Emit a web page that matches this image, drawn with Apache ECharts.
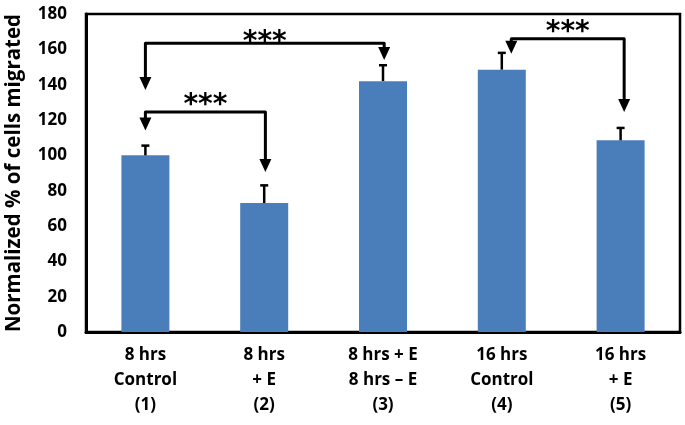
<!DOCTYPE html>
<html><head><meta charset="utf-8">
<script src="https://cdn.jsdelivr.net/npm/echarts@6/dist/echarts.min.js"></script>
<style>html,body{margin:0;padding:0;background:#fff}#c{width:685px;height:425px}</style>
</head><body><div id="c"></div>
<script>
// ---- data ----
const categories = ['8 hrs\nControl\n(1)', '8 hrs\n+ E\n(2)', '8 hrs + E\n8 hrs \u2013 E\n(3)', '16 hrs\nControl\n(4)', '16 hrs\n+ E\n(5)'];
const values = [100, 73, 142, 148.5, 108.5];
const errors = [5.5, 10, 9, 9.5, 7];
const yAxisTitle = 'Normalized % of cells migrated';
// significance brackets (data units: category index / value)
const bracketFrom = [0, 0, 3];
const bracketTo = [2, 1, 4];
const bracketFromShift = [0, 0, 0.08];
const bracketToShift = [0.01, 0.01, 0.03];
const bracketLevel = [163.5, 124.5, 166];
const bracketTipFrom = [137, 114, 157.5];
const bracketTipTo = [154, 90.5, 124.5];
const bracketLabelAt = [167, 131.5, 173];
const bracketLabels = ['***', '***', '***'];

const FONT = '"Open Sans"';
const chart = echarts.init(document.getElementById('c'));

const errData = values.map((v, i) => [i, v, errors[i]]);
const brData = bracketFrom.map((f, i) => [f, bracketTo[i], bracketLevel[i], bracketTipFrom[i], bracketTipTo[i], bracketLabelAt[i], bracketFromShift[i], bracketToShift[i], i]);

chart.setOption({
  animation: false,
  backgroundColor: '#fff',
  grid: { left: 86, right: 5, top: 14, bottom: 93, show: true, borderColor: '#000', borderWidth: 2.5, backgroundColor: 'transparent', outerBoundsMode: 'none', containLabel: false },
  xAxis: {
    type: 'category', data: categories,
    axisLine: { show: true, lineStyle: { color: '#000', width: 3 } },
    axisTick: { show: false },
    axisLabel: { color: '#000', fontFamily: FONT, fontWeight: 'bold', fontSize: 17, lineHeight: 25, margin: 11, interval: 0 }
  },
  yAxis: {
    type: 'value', min: 0, max: 180, interval: 20,
    name: yAxisTitle, nameLocation: 'middle', nameGap: 61,
    nameTextStyle: { color: '#000', fontFamily: FONT, fontWeight: 'bold', fontSize: 20.5 },
    axisLine: { show: true, lineStyle: { color: '#000', width: 3 } },
    axisTick: { show: false },
    splitLine: { show: false },
    axisLabel: { color: '#000', fontFamily: FONT, fontWeight: 'bold', fontSize: 17, margin: 19 }
  },
  series: [
    { type: 'bar', data: values, barWidth: 48, itemStyle: { color: '#4a7ebb' }, z: 2 },
    {
      type: 'custom', data: errData, encode: { x: 0, y: 1 }, z: 3, clip: false,
      renderItem: function (params, api) {
        const i = api.value(0), v = api.value(1), e = api.value(2);
        const p0 = api.coord([i, v]);
        const p1 = api.coord([i, v + e]);
        const st = { stroke: '#000', lineWidth: 2.5 };
        return { type: 'group', children: [
          { type: 'line', shape: { x1: p0[0], y1: p0[1], x2: p1[0], y2: p1[1] }, style: st },
          { type: 'line', shape: { x1: p1[0] - 4, y1: p1[1], x2: p1[0] + 4, y2: p1[1] }, style: st }
        ] };
      }
    },
    {
      type: 'custom', data: brData, encode: { x: 0, y: 2 }, z: 4, clip: false,
      renderItem: function (params, api) {
        const f = api.value(0), t = api.value(1), lev = api.value(2), tf = api.value(3), tt = api.value(4), la = api.value(5);
        const fs = api.value(6), ts = api.value(7), k = api.value(8);
        const bw = api.size([1, 0])[0];
        const x1 = api.coord([f, lev])[0] + fs * bw;
        const x2 = api.coord([t, lev])[0] + ts * bw;
        const yl = api.coord([f, lev])[1];
        const y1 = api.coord([f, tf])[1];
        const y2 = api.coord([t, tt])[1];
        const yt = api.coord([f, la])[1];
        const hh = 13, hw = 6;
        return { type: 'group', children: [
          { type: 'polyline', shape: { points: [[x1, y1 - hh + 1], [x1, yl], [x2, yl], [x2, y2 - hh + 1]] },
            style: { stroke: '#000', lineWidth: 3, fill: null, lineJoin: 'round' } },
          { type: 'polygon', shape: { points: [[x1 - hw, y1 - hh], [x1 + hw, y1 - hh], [x1, y1]] }, style: { fill: '#000' } },
          { type: 'polygon', shape: { points: [[x2 - hw, y2 - hh], [x2 + hw, y2 - hh], [x2, y2]] }, style: { fill: '#000' } },
          { type: 'text', x: (x1 + x2) / 2, y: yt + 6,
            style: { text: bracketLabels[k], fill: '#000', font: 'bold 28px "DejaVu Sans"', textAlign: 'center', textVerticalAlign: 'middle' } }
        ] };
      }
    }
  ]
});
</script>
</body></html>
